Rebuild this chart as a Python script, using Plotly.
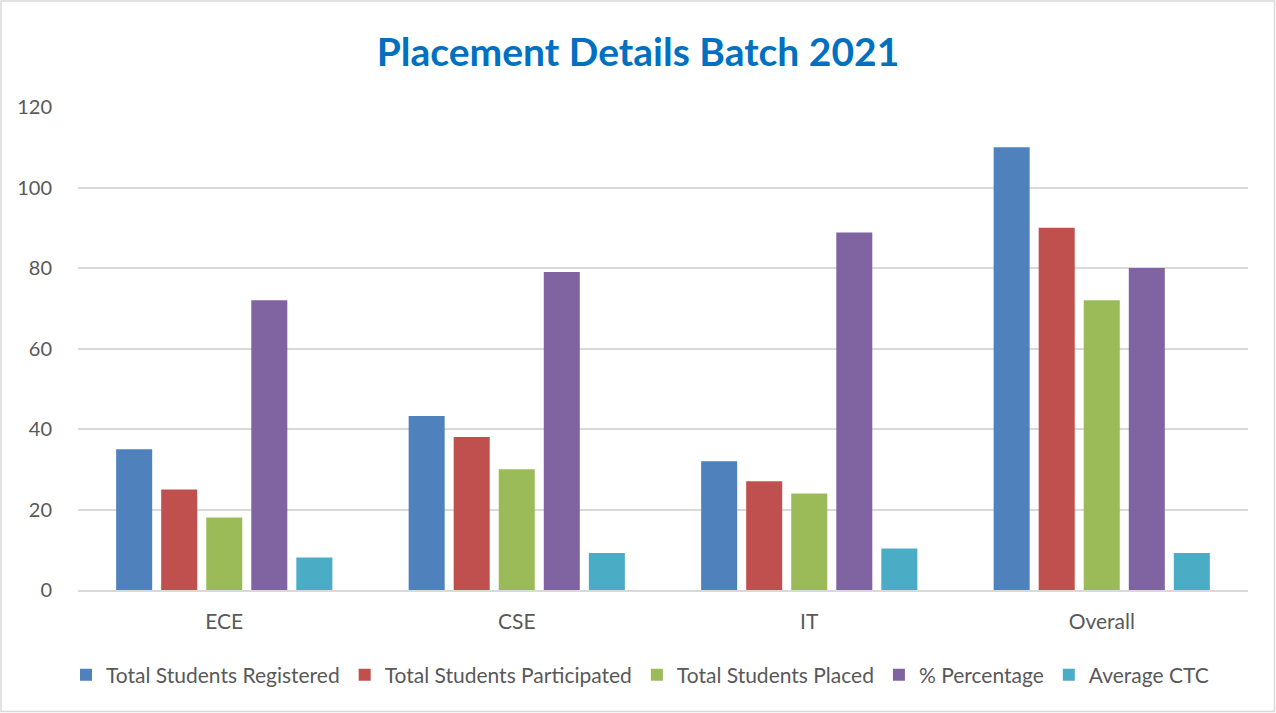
import plotly.graph_objects as go

categories = ["ECE", "CSE", "IT", "Overall"]
registered = [35, 43.2, 32, 110]
participated = [25, 38, 27, 90]
placed = [18, 30, 24, 72]
percentage = [72, 79, 88.8, 80]
avg_ctc = [8.1, 9.2, 10.3, 9.2]

series = [
    ("Total Students Registered", registered, "#4F81BD"),
    ("Total Students Participated", participated, "#C0504D"),
    ("Total Students Placed", placed, "#9BBB59"),
    ("% Percentage", percentage, "#8064A2"),
    ("Average CTC", avg_ctc, "#4BACC6"),
]

FONT = "Lato"
fig = go.Figure()
for name, vals, color in series:
    fig.add_trace(go.Bar(name=name, x=categories, y=vals, marker=dict(color=color, line=dict(width=0))))

W, H = 1276, 713
L, R, T, B = 78, 28, 107, 123
pw, ph = W - L - R, H - T - B

fig.update_layout(
    width=W, height=H,
    margin=dict(l=L, r=R, t=T, b=B),
    paper_bgcolor="white", plot_bgcolor="white",
    barmode="group", bargap=0.23, bargroupgap=0.2,
    font=dict(family=FONT, color="#595959", size=20),
    title=dict(text="<b>Placement Details Batch 2021</b>", x=0.5, xanchor="center",
               y=1 - 52 / H, yanchor="middle",
               font=dict(family=FONT, size=39, color="#0070C0")),
    xaxis=dict(showgrid=False, showline=True, linecolor="#D9D9D9", linewidth=2,
               ticks="", tickfont=dict(size=21, color="#595959"), ticklabelstandoff=12),
    yaxis=dict(range=[0, 120], dtick=20, showgrid=True, gridcolor="#D9D9D9", gridwidth=1.5,
               zeroline=False, showline=False, ticks="", tickfont=dict(size=20, color="#595959"),
               ticklabelstandoff=25),
    legend=dict(orientation="h", x=0.5 - 23 / pw, xanchor="center", y=-(675 - 590) / ph, yanchor="middle",
                font=dict(size=21, color="#595959"), itemwidth=30, traceorder="normal",
                itemclick=False),
    showlegend=True,
)
fig.add_shape(type="rect", xref="paper", yref="paper",
              x0=-(L - 1) / pw, x1=(W - 1.5 - L) / pw, y0=-(B - 1.5) / ph, y1=(ph + T - 1) / ph,
              line=dict(color="#D9D9D9", width=1.5), fillcolor="rgba(0,0,0,0)", layer="below")

fig.write_html("out.html", config={"displayModeBar": False},
               post_script="document.body.style.margin='0';document.body.style.overflow='hidden';")
